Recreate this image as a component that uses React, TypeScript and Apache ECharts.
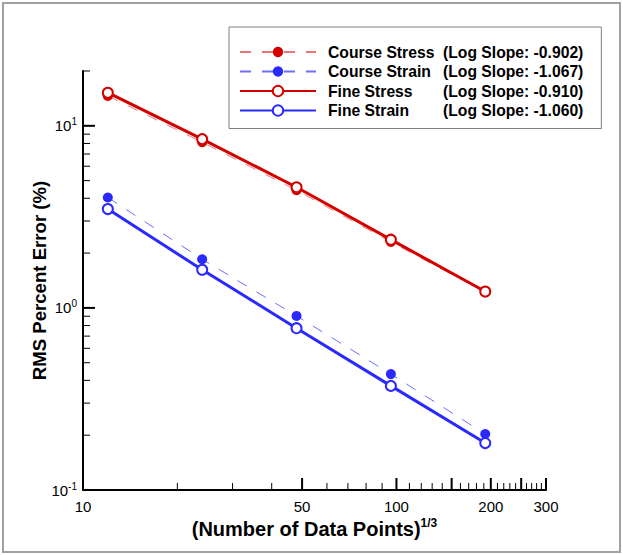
import React, { useEffect, useRef } from "react";
import * as echarts from "echarts";

// ---- data ----
const xValues = [12, 24, 48, 96, 192];
const courseStress = [14.6, 8.12, 4.43, 2.3, 1.22];
const courseStrain = [4.04, 1.85, 0.904, 0.433, 0.203];
const fineStress = [15.2, 8.45, 4.6, 2.37, 1.23];
const fineStrain = [3.49, 1.62, 0.774, 0.373, 0.181];

const seriesNames = ["Course Stress", "Course Strain", "Fine Stress", "Fine Strain"];
const logSlopes = ["-0.902", "-1.067", "-0.910", "-1.060"];

// ---- axis ticks / labels ----
const X_MIN = 10;
const X_MAX = 300;
const Y_MIN = 0.1;
const Y_MAX = 20;
const xMajorTicks = [10, 50, 100, 150, 200, 250, 300];
const xMinorTicks = [20, 30, 40, 60, 70, 80, 90, 110, 120, 130, 140, 160, 170, 180, 190, 210, 220, 230, 240, 260, 270, 280, 290];
const xTickLabels = [10, 50, 100, 200, 300];
const yMajorTicks = [0.1, 1, 10];
const yMinorTicks = [0.2, 0.3, 0.4, 0.5, 0.6, 0.7, 0.8, 0.9, 2, 3, 4, 5, 6, 7, 8, 9, 20];

const FONT = '"Liberation Sans", Arial, Helvetica, sans-serif';
const RED = "#d40000";
const BLUE = "#2a2aff";

function pairs(ys: number[]) {
  return xValues.map((x, i) => [x, ys[i]]);
}

function xTickSeries(name: string, ticks: number[], len: number, lw: number) {
  return {
    type: "custom",
    name,
    silent: true,
    z: 5,
    data: ticks.map((v) => [v, Y_MIN]),
    renderItem: (_p: any, api: any) => {
      const p = api.coord([api.value(0), api.value(1)]);
      return {
        type: "line",
        shape: { x1: p[0], y1: p[1], x2: p[0], y2: p[1] - len },
        style: { stroke: "#000", lineWidth: lw },
      };
    },
  };
}

function yTickSeries(name: string, ticks: number[], len: number, lw: number) {
  return {
    type: "custom",
    name,
    silent: true,
    z: 5,
    data: ticks.map((v) => [X_MIN, v]),
    renderItem: (_p: any, api: any) => {
      const p = api.coord([api.value(0), api.value(1)]);
      return {
        type: "line",
        shape: { x1: p[0], y1: p[1], x2: p[0] + len, y2: p[1] },
        style: { stroke: "#000", lineWidth: lw },
      };
    },
  };
}

export default function App() {
  const ref = useRef<HTMLDivElement>(null);

  useEffect(() => {
    if (!ref.current) return;
    const chart = echarts.init(ref.current, undefined, { renderer: "svg" });

    const option: any = {
      animation: false,
      backgroundColor: "#fff",
      textStyle: { fontFamily: FONT },
      grid: { left: 83, right: 77, top: 71, bottom: 65, containLabel: false, outerBoundsMode: "none" },
      xAxis: {
        type: "log",
        logBase: 10,
        min: X_MIN,
        max: X_MAX,
        name: "{m|(Number of Data Points)}{s|1/3}",
        nameLocation: "middle",
        nameGap: 27,
        nameMoveOverlap: false,
        nameTextStyle: {
          color: "#000",
          rich: {
            m: { fontSize: 20, fontWeight: "bold", fontFamily: FONT, lineHeight: 24, color: "#000" },
            s: { fontSize: 12, fontWeight: "bold", fontFamily: FONT, lineHeight: 12, verticalAlign: "top", color: "#000" },
          },
        },
        axisLine: { show: true, onZero: false, lineStyle: { color: "#000", width: 2 } },
        axisTick: { show: false },
        minorTick: { show: false },
        axisLabel: { show: false },
        splitLine: { show: false },
        minorSplitLine: { show: false },
      },
      yAxis: {
        type: "log",
        logBase: 10,
        min: Y_MIN,
        max: Y_MAX,
        name: "RMS Percent Error (%)",
        nameLocation: "middle",
        nameRotate: 90,
        nameGap: 34,
        nameMoveOverlap: false,
        nameTextStyle: { color: "#000", fontSize: 18.6, fontWeight: "bold", fontFamily: FONT },
        axisLine: { show: true, onZero: false, lineStyle: { color: "#000", width: 2 } },
        axisTick: { show: false },
        minorTick: { show: false },
        splitLine: { show: false },
        minorSplitLine: { show: false },
        axisLabel: {
          show: true,
          margin: 6,
          showMaxLabel: false,
          showMinLabel: true,
          formatter: (v: number) => {
            const e = Math.round(Math.log10(v));
            return "{b|10}{s|" + e + "}";
          },
          rich: {
            b: { fontSize: 15, fontFamily: FONT, color: "#000", lineHeight: 18 },
            s: { fontSize: 10, fontFamily: FONT, color: "#000", lineHeight: 10, verticalAlign: "top" },
          },
        },
      },
      legend: {
        data: seriesNames,
        orient: "vertical",
        left: 229,
        top: 27,
        padding: [17, 18, 10, 10],
        itemWidth: 76,
        itemHeight: 13,
        itemGap: 3.5,
        selectedMode: false,
        backgroundColor: "#fff",
        borderColor: "#808080",
        borderWidth: 1,
        formatter: (name: string) => {
          const i = seriesNames.indexOf(name);
          return "{n|" + name + "}{s|(Log Slope: " + logSlopes[i] + ")}";
        },
        textStyle: {
          fontSize: 15.7,
          fontWeight: "bold",
          fontFamily: FONT,
          color: "#000",
          lineHeight: 16,
          rich: {
            n: { fontSize: 15.7, fontWeight: "bold", fontFamily: FONT, color: "#000", width: 115, padding: [0, 0, 0, 7], lineHeight: 16 },
            s: { fontSize: 15.7, fontWeight: "bold", fontFamily: FONT, color: "#000", lineHeight: 16 },
          },
        },
      },
      graphic: [
        {
          type: "rect",
          silent: true,
          z: 100,
          shape: { x: 3, y: 3, width: 617, height: 549 },
          style: { fill: "none", stroke: "#a0a0a0", lineWidth: 2 },
        },
      ],
      series: [
        {
          name: seriesNames[0],
          type: "line",
          data: pairs(courseStress),
          symbol: "circle",
          symbolSize: 10,
          z: 2,
          itemStyle: { color: RED, borderWidth: 0 },
          lineStyle: { color: "#e87878", width: 1, type: [11, 11] },
        },
        {
          name: seriesNames[1],
          type: "line",
          data: pairs(courseStrain),
          symbol: "circle",
          symbolSize: 10,
          z: 2,
          itemStyle: { color: BLUE, borderWidth: 0 },
          lineStyle: { color: "#6e6eff", width: 1, type: [11, 11] },
        },
        {
          name: seriesNames[2],
          type: "line",
          data: pairs(fineStress),
          symbol: "emptyCircle",
          symbolSize: 10,
          z: 3,
          itemStyle: { color: RED, borderColor: RED, borderWidth: 1.5 },
          lineStyle: { color: RED, width: 3 },
        },
        {
          name: seriesNames[3],
          type: "line",
          data: pairs(fineStrain),
          symbol: "emptyCircle",
          symbolSize: 10,
          z: 3,
          itemStyle: { color: BLUE, borderColor: BLUE, borderWidth: 1.5 },
          lineStyle: { color: BLUE, width: 3 },
        },
        xTickSeries("xMajor", xMajorTicks, 12, 2),
        xTickSeries("xMinor", xMinorTicks, 7, 1),
        yTickSeries("yMajor", yMajorTicks, 12, 2),
        yTickSeries("yMinor", yMinorTicks, 7, 1),
        {
          type: "custom",
          name: "xLabels",
          silent: true,
          z: 5,
          data: xTickLabels.map((v) => [v, Y_MIN]),
          renderItem: (_p: any, api: any) => {
            const v = api.value(0);
            const p = api.coord([v, api.value(1)]);
            return {
              type: "text",
              x: p[0],
              y: p[1] + 9,
              style: {
                text: String(v),
                fill: "#000",
                fontSize: 15,
                fontFamily: FONT,
                align: "center",
                verticalAlign: "top",
              },
            };
          },
        },
      ],
    };

    chart.setOption(option);
    return () => chart.dispose();
  }, []);

  return (
    <div
      ref={ref}
      style={{ position: "fixed", left: 0, top: 0, width: 623, height: 555, background: "#fff" }}
    />
  );
}
